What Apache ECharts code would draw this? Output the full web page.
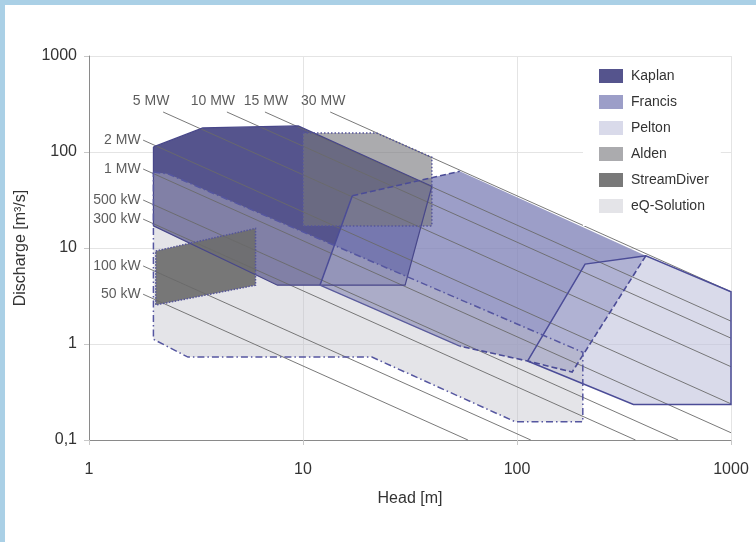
<!DOCTYPE html>
<html>
<head>
<meta charset="utf-8">
<script src="https://cdn.jsdelivr.net/npm/echarts@6/dist/echarts.min.js"></script>
<style>
html, body { margin: 0; padding: 0; background: #aad0e6; }
#frame { position: absolute; left: 5px; top: 5px; width: 751px; height: 537px; background: #fff; }
#turbines { position: absolute; left: 0; top: 0; width: 756px; height: 542px; }
</style>
</head>
<body>
<div id="frame"></div>
<div id="turbines"></div>
<script>
// application ranges, [head m, discharge m3/s]
const kaplan = [[2, 113], [3.4, 178], [9.5, 187], [40, 44], [30, 4.1], [7.6, 4.1], [2, 17]]
const francis = [[17, 35], [54, 63], [400, 8.3], [181, 0.51], [112, 0.665], [54, 0.95], [12, 4.1]]
const pelton = [[112, 0.665], [208, 6.8], [400, 8.3], [1000, 3.5], [1000, 0.235], [350, 0.235]]
const alden = [[10, 158], [22, 158], [40, 88], [40, 17], [10, 17]]
const streamDiver = [[2.05, 9.3], [6, 16], [6, 4.1], [2.05, 2.55]]
const eqSolution = [[2, 62], [2.35, 59], [203, 0.82], [203, 0.155], [98, 0.155], [21, 0.73], [2.9, 0.73], [2, 1.12]]

// power lines
const powerLabels = ['50 kW', '100 kW', '300 kW', '500 kW', '1 MW', '2 MW', '5 MW', '10 MW', '15 MW', '30 MW']
const powerStart = [[1.79, 3.3], [1.79, 6.5], [1.79, 20], [1.79, 31.6], [1.79, 66.5], [1.79, 133],
  [2.22, 261], [4.41, 261], [6.64, 261], [13.4, 261]]
const powerEnd = [[59, 0.1], [116, 0.1], [358, 0.1], [566, 0.1], [1000, 0.119], [1000, 0.238],
  [1000, 0.58], [1000, 1.15], [1000, 1.73], [1000, 3.5]]

const xTickLabels = ['1', '10', '100', '1000']
const yTickLabels = ['0,1', '1', '10', '100', '1000']

const FONT = 'Liberation Sans'
const EDGE = '#4b4c97'

// shift of the upper labels relative to line start
const topShift = { '5 MW': -12, '10 MW': -14, '15 MW': 1, '30 MW': -7 }

function areaSeries(name, pts, color) {
  return {
    name: name,
    type: 'custom',
    coordinateSystem: 'cartesian2d',
    silent: true,
    z: 2,
    itemStyle: { color: color },
    data: pts,
    renderItem: function (params, api) {
      if (params.dataIndex !== 0) return
      return {
        type: 'polygon',
        shape: { points: pts.map(p => api.coord(p)) },
        style: { fill: color }
      }
    }
  }
}

const closed = pts => pts.concat([pts[0]])

// outlines: solid / dashed / dotted / dash-dot
const outlines = [
  { pts: closed(kaplan), dash: null, w: 1.2, c: '#48478a' },
  { pts: [francis[6], francis[0]], dash: null, w: 1.5, c: EDGE },
  { pts: [francis[5], francis[6]], dash: null, w: 1.2, c: '#5b5c9c' },
  { pts: [francis[0], francis[1]], dash: [6, 3], w: 1.6, c: EDGE },
  { pts: [francis[2], francis[3], francis[4], francis[5]], dash: [6, 3], w: 1.6, c: EDGE },
  { pts: closed(pelton), dash: null, w: 1.5, c: EDGE },
  { pts: closed(alden), dash: [1.5, 2], w: 1.5, c: '#55559a' },
  { pts: closed(streamDiver), dash: [1.5, 1.5], w: 1.5, c: '#55559a' },
  { pts: closed(eqSolution), dash: [7, 3, 1.5, 3], w: 1.5, c: '#5556a0' }
]

const series = [
  areaSeries('Kaplan', kaplan, '#55548d'),
  areaSeries('Francis', francis, 'rgba(128,131,184,0.78)'),
  areaSeries('Pelton', pelton, 'rgba(190,192,218,0.58)'),
  areaSeries('eQ-Solution', eqSolution, 'rgba(190,191,200,0.42)'),
  areaSeries('Alden', alden, 'rgba(120,120,124,0.62)'),
  areaSeries('StreamDiver', streamDiver, 'rgba(110,110,110,0.92)')
]

powerLabels.forEach((name, i) => {
  series.push({
    name: name,
    type: 'line',
    silent: true,
    z: 3,
    symbol: 'none',
    lineStyle: { color: '#6a6a6a', width: 0.9 },
    data: [powerStart[i], powerEnd[i]]
  })
})

series.push({
  type: 'custom',
  coordinateSystem: 'cartesian2d',
  silent: true,
  z: 4,
  data: [[1, 1]],
  renderItem: function (params, api) {
    return {
      type: 'group',
      children: outlines.map(o => ({
        type: 'polyline',
        shape: { points: o.pts.map(p => api.coord(p)) },
        style: { stroke: o.c, lineWidth: o.w, lineDash: o.dash, fill: null }
      }))
    }
  }
})

series.push({
  type: 'scatter',
  silent: true,
  z: 5,
  symbolSize: 1,
  itemStyle: { color: 'rgba(0,0,0,0)' },
  data: powerLabels.map((name, i) => {
    const top = name in topShift
    return {
      name: name,
      value: powerStart[i],
      label: top
        ? { show: true, position: 'top', distance: 3, offset: [topShift[name], 0] }
        : { show: true, position: 'left', distance: 2 }
    }
  }),
  label: { formatter: '{b}', color: '#333', fontSize: 14, fontFamily: FONT }
})

const chart = echarts.init(document.getElementById('turbines'))
chart.setOption({
  animation: false,
  textStyle: { fontFamily: FONT },
  grid: { left: 89, right: 25, top: 56, bottom: 102 },
  legend: {
    data: ['Kaplan', 'Francis', 'Pelton', 'Alden', 'StreamDiver', 'eQ-Solution'],
    orient: 'vertical',
    left: 583,
    top: 59,
    padding: [9, 12, 12, 16],
    backgroundColor: '#fff',
    icon: 'rect',
    itemWidth: 24,
    itemHeight: 14,
    itemGap: 10,
    selectedMode: false,
    textStyle: { color: '#333', fontSize: 14, fontFamily: FONT, lineHeight: 16, padding: [0, 0, 0, 3] }
  },
  xAxis: {
    type: 'log',
    logBase: 10,
    min: 1,
    max: 1000,
    name: 'Head [m]',
    nameLocation: 'middle',
    nameGap: 51,
    nameTextStyle: { color: '#333', fontSize: 16, verticalAlign: 'top' },
    axisLine: { lineStyle: { color: '#8a8a8a' } },
    axisTick: { show: true, length: 5, lineStyle: { color: '#c8c8c8' } },
    axisLabel: {
      color: '#333', fontSize: 16, margin: 22,
      formatter: v => xTickLabels[Math.round(Math.log10(v))]
    },
    splitLine: { lineStyle: { color: '#e4e4e4' } },
    minorTick: { show: false }
  },
  yAxis: {
    type: 'log',
    logBase: 10,
    min: 0.1,
    max: 1000,
    name: 'Discharge [m³/s]',
    nameLocation: 'middle',
    nameGap: 60,
    nameTextStyle: { color: '#333', fontSize: 16 },
    axisLine: { show: true, lineStyle: { color: '#8a8a8a' } },
    axisTick: { show: true, length: 5, lineStyle: { color: '#c8c8c8' } },
    axisLabel: {
      color: '#333', fontSize: 16, margin: 12,
      formatter: v => yTickLabels[Math.round(Math.log10(v)) + 1]
    },
    splitLine: { lineStyle: { color: '#e4e4e4' } }
  },
  series: series
})
</script>
</body>
</html>
